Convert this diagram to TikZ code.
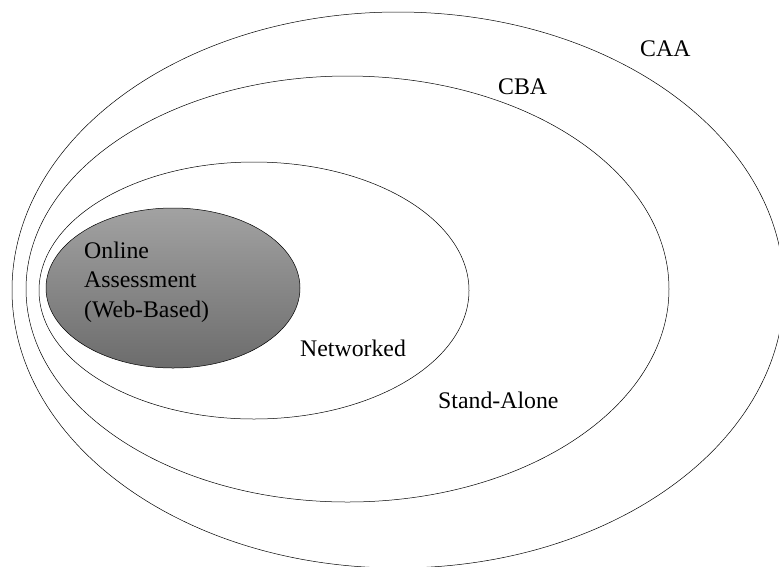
\documentclass[tikz,border=0pt]{standalone}
\usepackage{fontspec}
\setmainfont{Liberation Serif}

\definecolor{shadetop}{RGB}{162,162,162}
\definecolor{shadebot}{RGB}{108,108,108}

\tikzset{
  ring/.style={draw=black, line width=0.5pt},
  lbl/.style={anchor=base west, inner sep=0pt, font=\fontsize{23.8}{29.5}\selectfont}
}

\begin{document}
\begin{tikzpicture}[x=1pt, y=-1pt]
    \useasboundingbox (0,0) rectangle (779,566);

    \draw[ring] (398, 290) ellipse [x radius=386, y radius=278];
    \draw[ring] (347.5, 289) ellipse [x radius=321.5, y radius=213];
    \draw[ring] (254, 290.5) ellipse [x radius=215, y radius=128.5];
    \shade[ring, top color=shadetop, bottom color=shadebot]
        (173, 288) ellipse [x radius=127, y radius=80];

    \node[lbl] (caa) at (640, 56) {CAA};
    \node[lbl] (cba) at (498, 94) {CBA};
    \node[lbl] (net) at (300, 356) {Networked};
    \node[lbl] (sa) at (438, 408) {Stand-Alone};
    \node[lbl, align=left] (online) at (84, 317) {Online\\Assessment\\(Web-Based)};
\end{tikzpicture}
\end{document}
